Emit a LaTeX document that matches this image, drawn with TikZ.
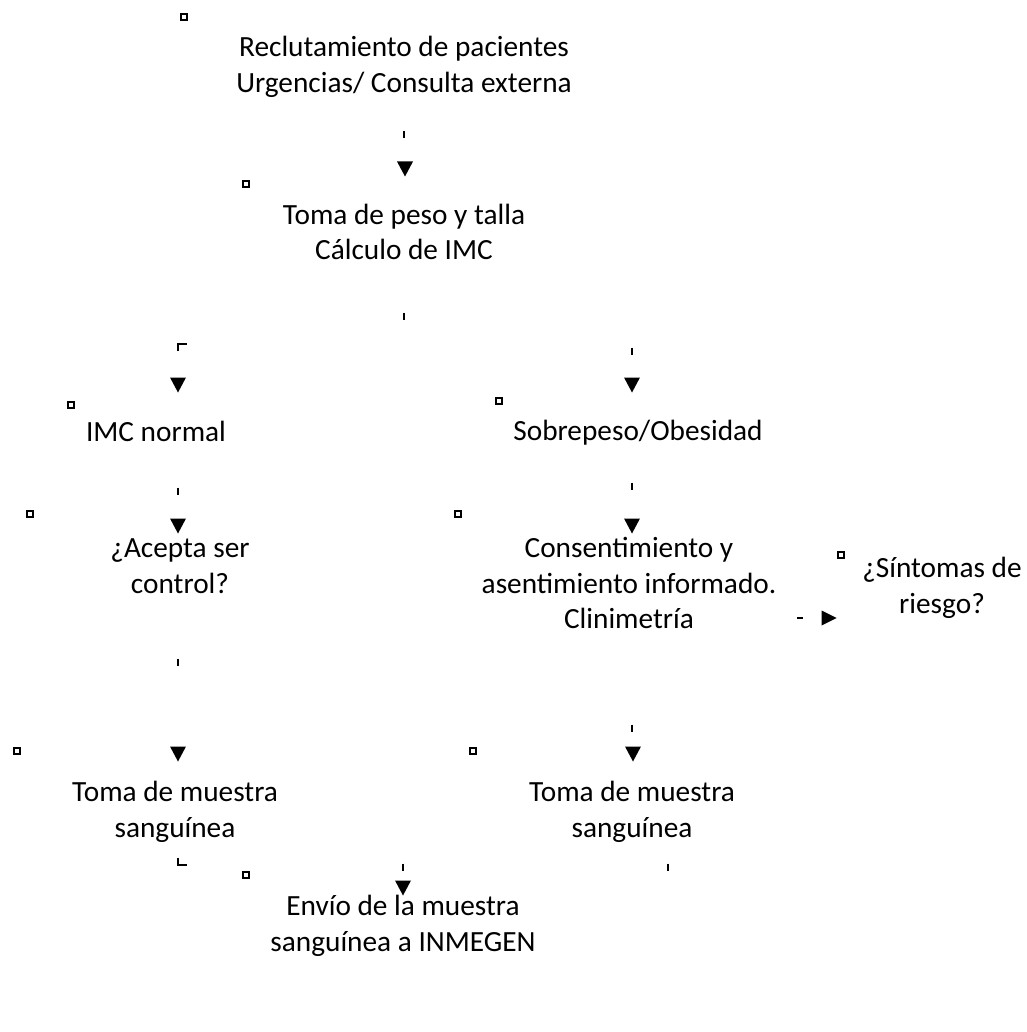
\documentclass[tikz,border=0pt]{standalone}
\usepackage{fontspec}
\setmainfont{Carlito}
\begin{document}
\begin{tikzpicture}[x=1pt,y=-1pt,
  lbl/.style={align=center,font=\fontsize{29.3}{35.5}\selectfont,inner sep=0pt},
  sq/.style={draw,line width=1.7pt,minimum size=6pt,inner sep=0pt},
  tk/.style={line width=2.5pt},
  dtri/.pic={\fill (-8,-7.5) -- (8,-7.5) -- (0,7.5) -- cycle;},
  rtri/.pic={\fill (-7.5,-7.5) -- (-7.5,7.5) -- (7.5,0) -- cycle;}]
\useasboundingbox (0,0) rectangle (1026,1032);
% texts
\node[lbl] (reclut) at (404,67) {Reclutamiento de pacientes\\Urgencias/ Consulta externa};
\node[lbl] (peso) at (404,232) {Toma de peso y talla\\Cálculo de IMC};
\node[lbl] (normal) at (156,431) {IMC normal};
\node[lbl] (sobre) at (638,433) {Sobrepeso/Obesidad};
\node[lbl] (acepta) at (180,566) {¿Acepta ser\\control?};
\node[lbl] (consent) at (629,583) {Consentimiento y\\asentimiento informado.\\Clinimetría};
\node[lbl] (sintomas) at (942,588) {¿Síntomas de\\riesgo?};
\node[lbl] (muestraL) at (175,812) {Toma de muestra\\sanguínea};
\node[lbl] (muestraR) at (632,812) {Toma de muestra\\sanguínea};
\node[lbl] (envio) at (403,926) {Envío de la muestra\\sanguínea a INMEGEN};
% small squares
\node[sq] (s1) at (184,17) {};
\node[sq] (s2) at (246,184) {};
\node[sq] (s3) at (71,405) {};
\node[sq] (s4) at (499,401) {};
\node[sq] (s5) at (30,514) {};
\node[sq] (s6) at (458,514) {};
\node[sq] (s7) at (841,555) {};
\node[sq] (s8) at (17,751) {};
\node[sq] (s9) at (473,751) {};
\node[sq] (s10) at (246,875) {};
% ticks
\foreach \x/\y in {404/135, 404/316, 632/351, 178/491, 632/486, 178/662, 632/728, 403/867, 668/867}
  \draw[tk] (\x,\y-3.5) -- (\x,\y+3.5);
% corners
\draw[line width=2pt] (178,351) -- (178,344) -- (187,344);
\draw[line width=2pt] (178,858) -- (178,865) -- (187,865);
% arrowheads
\foreach \x/\y in {405/169, 178/385, 632/385, 178/526, 632/526, 178/754, 633/754, 403/888}
  \pic at (\x,\y) {dtri};
\draw[line width=2.6pt] (797,618) -- (803,618);
\pic at (829,618) {rtri};
\end{tikzpicture}
\end{document}
